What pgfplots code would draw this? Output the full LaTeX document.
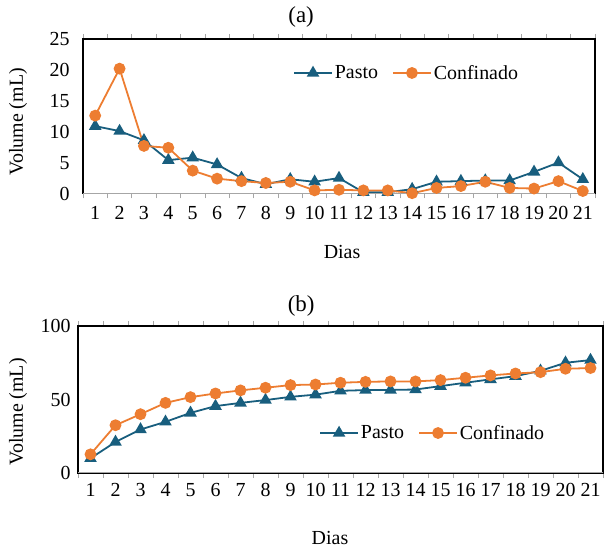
\documentclass[border=0pt]{standalone}
\usepackage{fontspec}
\setmainfont{Liberation Serif}
\usepackage{pgfplots}
\pgfplotsset{compat=1.18}

\definecolor{pasto}{RGB}{24,94,126}
\definecolor{confinado}{RGB}{237,125,49}

\pgfplotsset{
  panel/.style={
    scale only axis,
    font=\fontsize{20}{24}\selectfont,
    /pgf/number format/assume math mode=true,
    xmin=0.5, xmax=21.5,
    xtick={1,...,21},
    minor xtick={0.5,1.5,...,21.5},
    major tick length=0pt,
    minor tick length=5bp,
    tick align=outside,
    every minor tick/.style={gray!70, line width=0.8pt},
    ytick style={draw=none},
    axis line style={black, line width=1.2pt},
    legend cell align=left,
    legend image code/.code={
      \draw[mark repeat=2, mark phase=2, #1]
        plot coordinates {(0bp,0bp) (19bp,0bp) (38bp,0bp)};
    },
    legend style={draw=none, fill=none, inner sep=0pt,
      font=\fontsize{20}{24}\selectfont,
      /tikz/every even column/.append style={column sep=12bp}},
    title style={font=\fontsize{23}{27}\selectfont},
  },
  pasto/.style={color=pasto, line width=1.8pt, mark=triangle*,
    mark size=5.5bp, mark options={solid}},
  conf/.style={color=confinado, line width=1.8pt, mark=*,
    mark size=5bp, mark options={solid}},
}

\begin{document}
\begin{tikzpicture}
\useasboundingbox (0,0) rectangle (604bp,549bp);

% (a) daily volume
\begin{axis}[
  panel,
  at={(83bp,355.5bp)}, anchor=south west,
  width=512bp, height=154.5bp,
  ymin=0, ymax=25, ytick={0,5,...,25},
  yticklabel style={xshift=-10bp},
  xticklabel style={yshift=-9bp},
  ylabel={Volume (mL)},
  ylabel style={at={(axis description cs:-0.127,0.463)}, anchor=center},
  xlabel={Dias},
  xlabel style={at={(axis description cs:0.506,-0.379)}, anchor=center},
  title={(a)},
  title style={at={(axis description cs:0.426,1.104)}, anchor=center},
  legend columns=2,
  legend style={at={(axis description cs:0.41,0.78)}, anchor=west},
]
\addplot[pasto] coordinates {
  (1,10.9) (2,10.1) (3,8.6) (4,5.4) (5,5.8) (6,4.7) (7,2.5)
  (8,1.5) (9,2.3) (10,1.9) (11,2.5) (12,0.2) (13,0.2) (14,0.7)
  (15,1.9) (16,2.0) (17,2.1) (18,2.1) (19,3.5) (20,5.0) (21,2.3)};
\addplot[conf] coordinates {
  (1,12.6) (2,20.2) (3,7.7) (4,7.4) (5,3.7) (6,2.4) (7,2.0)
  (8,1.7) (9,1.9) (10,0.5) (11,0.6) (12,0.5) (13,0.5) (14,0.05)
  (15,0.9) (16,1.2) (17,1.9) (18,0.9) (19,0.8) (20,2.0) (21,0.4)};
\legend{Pasto,Confinado}
\draw[gray!70, line width=1.2pt] (rel axis cs:0,0) -- (rel axis cs:1,0);
\end{axis}

% (b) cumulative volume
\begin{axis}[
  panel,
  at={(78bp,76bp)}, anchor=south west,
  width=525bp, height=147bp,
  ymin=0, ymax=100, ytick={0,50,100},
  yticklabel style={xshift=-4bp},
  xticklabel style={yshift=-7bp},
  ylabel={Volume (mL)},
  ylabel style={at={(axis description cs:-0.114,0.415)}, anchor=center},
  xlabel={Dias},
  xlabel style={at={(axis description cs:0.48,-0.442)}, anchor=center},
  title={(b)},
  title style={at={(axis description cs:0.425,1.095)}, anchor=center},
  legend columns=2,
  legend style={at={(axis description cs:0.459,0.272)}, anchor=west},
]
\addplot[pasto] coordinates {
  (1,10.0) (2,21.1) (3,29.6) (4,34.8) (5,40.9) (6,45.5) (7,47.7)
  (8,49.6) (9,51.8) (10,53.3) (11,55.9) (12,56.4) (13,56.5) (14,56.8)
  (15,59.1) (16,61.4) (17,63.7) (18,65.9) (19,69.5) (20,75.0) (21,76.8)};
\addplot[conf] coordinates {
  (1,12.7) (2,32.5) (3,40.0) (4,47.7) (5,51.6) (6,54.1) (7,56.2)
  (8,58.0) (9,59.8) (10,60.2) (11,61.4) (12,62.0) (13,62.3) (14,62.3)
  (15,63.2) (16,64.8) (17,66.4) (18,67.7) (19,68.6) (20,70.9) (21,71.4)};
\legend{Pasto,Confinado}
\draw[gray!70, line width=1.2pt] (rel axis cs:0,0) -- (rel axis cs:1,0);
\end{axis}
\end{tikzpicture}
\end{document}
